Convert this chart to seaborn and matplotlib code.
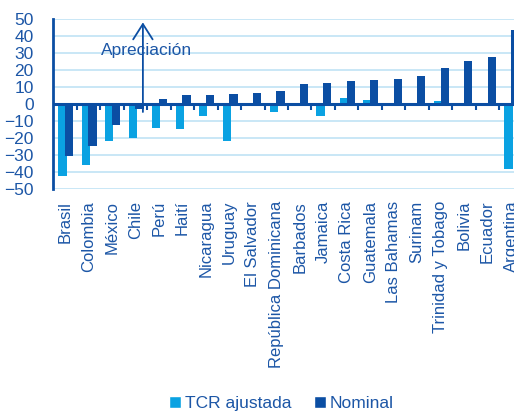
import matplotlib
matplotlib.use("Agg")
import matplotlib.pyplot as plt
import seaborn as sns
import pandas as pd
import numpy as np

# Variación del tipo de cambio por país (%)
paises = ["Brasil", "Colombia", "México", "Chile", "Perú", "Haití", "Nicaragua",
          "Uruguay", "El Salvador", "República Dominicana", "Barbados", "Jamaica",
          "Costa Rica", "Guatemala", "Las Bahamas", "Surinam", "Trinidad y Tobago",
          "Bolivia", "Ecuador", "Argentina"]
tcr_ajustada = [-42.5, -36, -22, -20, -14, -14.5, -7, -22, 0, -4.5, 0, -7,
                3.7, 2.5, 0, 0, 1.5, 0, 0, -38.5]
nominal = [-30.5, -24.5, -12.5, -3, 2.7, 5.1, 5.3, 5.9, 6.3, 7.5, 11.8, 12.5,
           13.3, 14.3, 14.5, 16.7, 21, 25.3, 27.5, 43.5]
series = ["TCR ajustada", "Nominal"]
y_ticks = list(range(-50, 51, 10))

light = "#0AA2E2"
dark = "#0B4EA3"
text_blue = "#1C56A6"
grid_blue = "#C9E7F6"

sns.set_style("white")
plt.rcParams["font.family"] = ["Liberation Sans", "DejaVu Sans"]

df = pd.DataFrame({
    "país": paises * 2,
    "valor": tcr_ajustada + nominal,
    "serie": [series[0]] * len(paises) + [series[1]] * len(paises),
})

fig = plt.figure(figsize=(5.14, 4.12), dpi=100)
ax = fig.add_axes([53.2 / 514, 1 - 189 / 412, 469.6 / 514, 170 / 412])

sns.barplot(data=df, x="país", y="valor", hue="serie", hue_order=series,
            palette=[light, dark], saturation=1, width=0.57, ax=ax, zorder=3)

# overlapping bar pairs, slightly right of the category centre
for cont, off in zip(ax.containers, (-0.11, 0.175)):
    for i, p in enumerate(cont.patches):
        w = 0.355
        p.set_width(w)
        p.set_x(i + off - w / 2)
        p.set_linewidth(0)

ax.set_xlim(-0.5, len(paises) - 0.5)
ax.set_ylim(-50, 50)
ax.set_yticks(y_ticks)
ax.set_xlabel("")
ax.set_ylabel("")

for y in y_ticks:
    if y != 0:
        ax.axhline(y, color=grid_blue, lw=1.4, zorder=1)
ax.axhline(0, color=dark, lw=2.2, zorder=4)
ax.vlines(np.arange(0.5, len(paises) - 0.5, 1), -3.5, 0, color=dark, lw=1.5, zorder=4)

for s in ("top", "right", "bottom"):
    ax.spines[s].set_visible(False)
ax.spines["left"].set_color(dark)
ax.spines["left"].set_linewidth(2)
ax.spines["left"].set_zorder(5)

ax.tick_params(axis="y", direction="out", length=4, width=1.5, color=dark,
               labelcolor=text_blue, labelsize=12.5, pad=10)
ax.tick_params(axis="x", length=0, labelcolor=text_blue, labelsize=12, pad=8.5)
plt.setp(ax.get_xticklabels(), rotation=90, va="top", ha="center")

ax.annotate("", xy=(3.32, 48), xytext=(3.32, -4.7),
            arrowprops=dict(arrowstyle="->,head_length=1.1,head_width=0.7",
                            color=dark, lw=1.3, shrinkA=0, shrinkB=0,
                            mutation_scale=10), zorder=6)
ax.text(3.47, 31.5, "Apreciación", color=text_blue, fontsize=12.5,
        ha="center", va="center", zorder=6)

sns.move_legend(ax, "center", bbox_to_anchor=(0.547, 0.02),
                bbox_transform=fig.transFigure, ncol=2, frameon=False,
                title=None, handlelength=0.7, handleheight=0.7,
                handletextpad=0.2, columnspacing=1.3, fontsize=12.5,
                labelcolor=text_blue)

fig.savefig("out.png", dpi=100)
